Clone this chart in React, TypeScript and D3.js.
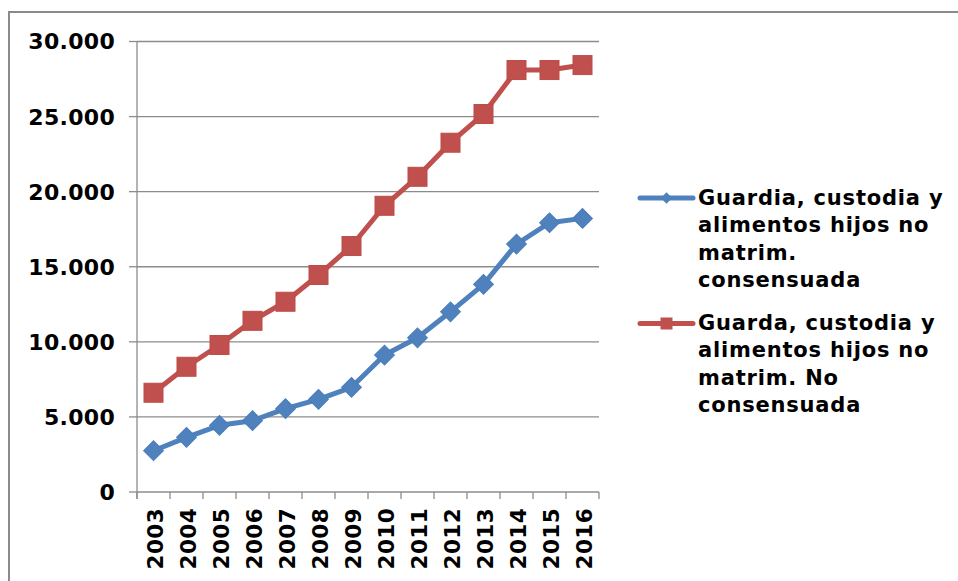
import React from "react";
import * as d3 from "d3";

const years = ["2003","2004","2005","2006","2007","2008","2009","2010","2011","2012","2013","2014","2015","2016"];
const consensuada = [2750, 3640, 4440, 4750, 5550, 6170, 6970, 9120, 10270, 12000, 13830, 16510, 17930, 18220];
const noConsensuada = [6610, 8340, 9790, 11400, 12670, 14450, 16380, 19060, 20990, 23260, 25170, 28100, 28100, 28430];
const yTicks = [0, 5000, 10000, 15000, 20000, 25000, 30000];
const legendBlue = ["Guardia, custodia y", "alimentos hijos no", "matrim.", "consensuada"];
const legendRed = ["Guarda, custodia y", "alimentos hijos no", "matrim. No", "consensuada"];

const BLUE = "#4F81BD";
const BLUE_DARK = "#4A7EBB";
const RED = "#C0504D";
const RED_DARK = "#BE4B48";
const FONT = "'DejaVu Sans', Verdana, sans-serif";

export default function App() {
  const W = 958, H = 581;
  const left = 137, right = 599, top = 41.5, bottom = 492;
  const x = d3.scaleBand<string>().domain(years).range([left, right]).padding(0);
  const y = d3.scaleLinear().domain([0, 30000]).range([bottom, top]);
  const cx = (i: number) => (x(years[i]) as number) + x.bandwidth() / 2;
  const line = d3.line<number>().x((_, i) => cx(i)).y((d) => y(d));
  const fmt = (v: number) => (v === 0 ? "0" : d3.format(",")(v).replace(/,/g, "."));
  const boundaries = years.map((yr) => x(yr) as number).concat([right]);

  return (
    <svg width={W} height={H} style={{ position: "absolute", left: 0, top: 0, background: "#fff" }} fontFamily={FONT}>
      <rect x={0} y={0} width={W} height={H} fill="#fff" />
      {/* frame */}
      <rect x={9} y={12} width={W + 20} height={H + 20} fill="none" stroke="#8a8a8a" strokeWidth={2} />
      {/* gridlines */}
      {yTicks.filter((t) => t > 0).map((t) => (
        <line key={t} x1={left} x2={right} y1={y(t)} y2={y(t)} stroke="#8c8c8c" strokeWidth={1.3} />
      ))}
      {/* y axis */}
      <line x1={left} x2={left} y1={top} y2={bottom + 7} stroke="#8c8c8c" strokeWidth={1.3} />
      {yTicks.map((t) => (
        <g key={t}>
          <line x1={left - 8} x2={left} y1={y(t)} y2={y(t)} stroke="#8c8c8c" strokeWidth={1.3} />
          <text x={115} y={y(t)} dy="0.36em" textAnchor="end" fontSize={22} fontWeight="bold" fill="#000" letterSpacing={0.3}>
            {fmt(t)}
          </text>
        </g>
      ))}
      {/* x axis */}
      <line x1={left} x2={right} y1={bottom} y2={bottom} stroke="#8c8c8c" strokeWidth={1.3} />
      {boundaries.map((b, i) => (
        <line key={i} x1={b} x2={b} y1={bottom} y2={bottom + 7} stroke="#8c8c8c" strokeWidth={1.3} />
      ))}
      {years.map((yr, i) => (
        <text
          key={yr}
          transform={`translate(${cx(i) + 2},${508}) rotate(-90)`}
          dy="0.36em"
          textAnchor="end"
          fontSize={21.5}
          fontWeight="bold"
          fill="#000"
          letterSpacing={0.4}
        >
          {yr}
        </text>
      ))}
      {/* series lines */}
      <path d={line(noConsensuada) || ""} fill="none" stroke={RED} strokeWidth={5} strokeLinejoin="round" />
      <path d={line(consensuada) || ""} fill="none" stroke={BLUE} strokeWidth={5} strokeLinejoin="round" />
      {noConsensuada.map((v, i) => (
        <rect key={i} x={cx(i) - 9.5} y={y(v) - 9.5} width={19} height={19} fill={RED} stroke={RED_DARK} strokeWidth={1} />
      ))}
      {consensuada.map((v, i) => (
        <rect
          key={i}
          x={-7}
          y={-7}
          width={14}
          height={14}
          transform={`translate(${cx(i)},${y(v)}) rotate(45)`}
          fill={BLUE}
          stroke={BLUE_DARK}
          strokeWidth={1}
        />
      ))}
      {/* legend */}
      <line x1={640} x2={693} y1={198} y2={198} stroke={BLUE} strokeWidth={5} strokeLinecap="round" />
      <rect x={-4} y={-4} width={8} height={8} transform={`translate(666.5,198) rotate(45)`} fill={BLUE} />
      {legendBlue.map((l, i) => (
        <text key={i} x={698} y={205 + i * 27.3} fontSize={21} fontWeight="bold" fill="#000" letterSpacing={0.8}>{l}</text>
      ))}
      <line x1={640} x2={693} y1={323.5} y2={323.5} stroke={RED} strokeWidth={5} strokeLinecap="round" />
      <rect x={660.5} y={317.5} width={12} height={12} fill={RED} />
      {legendRed.map((l, i) => (
        <text key={i} x={698} y={330 + i * 27.3} fontSize={21} fontWeight="bold" fill="#000" letterSpacing={0.8}>{l}</text>
      ))}
    </svg>
  );
}
